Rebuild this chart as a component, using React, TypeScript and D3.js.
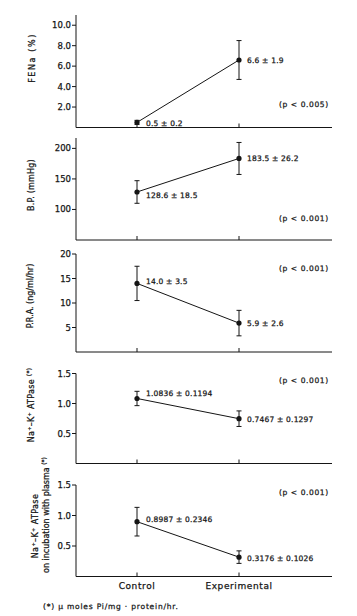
import React from "react";
import * as d3 from "d3";

// ---- data ----
const categories = ["Control", "Experimental"];

const fenaMean = [0.5, 6.6];
const fenaSD = [0.2, 1.9];
const fenaTicks = [2, 4, 6, 8, 10];

const bpMean = [128.6, 183.5];
const bpSD = [18.5, 26.2];
const bpTicks = [100, 150, 200];

const praMean = [14.0, 5.9];
const praSD = [3.5, 2.6];
const praTicks = [5, 10, 15, 20];

const atpMean = [1.0836, 0.7467];
const atpSD = [0.1194, 0.1297];
const atpTicks = [0.5, 1.0, 1.5];

const atpPlasmaMean = [0.8987, 0.3176];
const atpPlasmaSD = [0.2346, 0.1026];
const atpPlasmaTicks = [0.5, 1.0, 1.5];

const pValues = ["(p < 0.005)", "(p < 0.001)", "(p < 0.001)", "(p < 0.001)", "(p < 0.001)"];
const footnote = "(*)  \u03bc moles Pi/mg \u00b7 protein/hr.";

// ---- layout ----
const W = 357;
const H = 616;
const AX_L = 76;
const AX_R = 332;
const FONT = "'DejaVu Sans', 'Liberation Sans', sans-serif";
const INK = "#151515";
const TS = 0.25; // slight text stroke to mimic scanned print weight

const xScale = d3.scalePoint<string>().domain(categories).range([137, 239]);

type Panel = {
  mean: number[];
  sd: number[];
  ticks: number[];
  domain: [number, number];
  range: [number, number];
  tickFmt: string;
  valFmt: string;
  labelLines: { text: string; sup?: string; x: number; y: number; ls: number }[];
  pY: number;
  annDy: number[];
};

const panels: Panel[] = [
  {
    mean: fenaMean, sd: fenaSD, ticks: fenaTicks, domain: [0, 11], range: [127.5, 15],
    tickFmt: ".1f", valFmt: ".1f",
    labelLines: [{ text: "FENa (%)", x: 32, y: 58, ls: 1.6 }],
    pY: 104, annDy: [1, 0],
  },
  {
    mean: bpMean, sd: bpSD, ticks: bpTicks, domain: [50, 217], range: [240, 138],
    tickFmt: "d", valFmt: ".1f",
    labelLines: [{ text: "B.P. (mmHg)", x: 31, y: 185, ls: 0.2 }],
    pY: 218, annDy: [4, 0],
  },
  {
    mean: praMean, sd: praSD, ticks: praTicks, domain: [0, 20], range: [352, 254],
    tickFmt: "d", valFmt: ".1f",
    labelLines: [{ text: "P.R.A. (ng/ml/hr)", x: 30, y: 296, ls: 0 }],
    pY: 268, annDy: [-2, 0],
  },
  {
    mean: atpMean, sd: atpSD, ticks: atpTicks, domain: [0, 1.5], range: [463.5, 373.5],
    tickFmt: ".1f", valFmt: ".4f",
    labelLines: [{ text: "Na\u207a\u2013K\u207a ATPase ", sup: "(*)", x: 31, y: 405, ls: 0.3 }],
    pY: 380, annDy: [-5, 1],
  },
  {
    mean: atpPlasmaMean, sd: atpPlasmaSD, ticks: atpPlasmaTicks, domain: [0, 1.5], range: [576.5, 485],
    tickFmt: ".1f", valFmt: ".4f",
    labelLines: [
      { text: "Na\u207a\u2013K\u207a ATPase", x: 35, y: 526, ls: 0.4 },
      { text: "on incubation with plasma ", sup: "(*)", x: 46, y: 515, ls: 0 },
    ],
    pY: 492, annDy: [-2, 1],
  },
];

function PanelView({ p, idx }: { p: Panel; idx: number }) {
  const y = d3.scaleLinear().domain(p.domain).range(p.range);
  const tf = d3.format(p.tickFmt);
  const vf = d3.format(p.valFmt);
  const base = y(p.domain[0]);
  const top = y(p.domain[1]);
  const pts = categories.map((c, i) => [xScale(c) as number, y(p.mean[i])] as [number, number]);
  const line = d3.line()(pts) || "";
  return (
    <g>
      {/* y axis */}
      <line x1={AX_L} x2={AX_L} y1={base} y2={top} stroke={INK} strokeWidth={1} />
      {p.ticks.map((t) => (
        <g key={t}>
          <line x1={AX_L - 4} x2={AX_L} y1={y(t)} y2={y(t)} stroke={INK} strokeWidth={1} />
          <text x={AX_L - 5} y={y(t)} textAnchor="end" dominantBaseline="central"
            fontSize={8.5} fontFamily={FONT} fill={INK} stroke={INK} strokeWidth={TS}>{tf(t)}</text>
        </g>
      ))}
      {/* x axis */}
      <line x1={AX_L} x2={AX_R} y1={base} y2={base} stroke={INK} strokeWidth={1} />
      {categories.map((c) => (
        <line key={c} x1={xScale(c)} x2={xScale(c)} y1={base} y2={base - 4} stroke={INK} strokeWidth={1} />
      ))}
      {/* connecting line */}
      <path d={line} fill="none" stroke={INK} strokeWidth={1} />
      {/* error bars + markers */}
      {categories.map((c, i) => {
        const cx = xScale(c) as number;
        const hi = y(p.mean[i] + p.sd[i]);
        const lo = y(p.mean[i] - p.sd[i]);
        return (
          <g key={c}>
            <line x1={cx} x2={cx} y1={hi} y2={lo} stroke={INK} strokeWidth={1} />
            <line x1={cx - 2.5} x2={cx + 2.5} y1={hi} y2={hi} stroke={INK} strokeWidth={1} />
            <line x1={cx - 2.5} x2={cx + 2.5} y1={lo} y2={lo} stroke={INK} strokeWidth={1} />
            <circle cx={cx} cy={y(p.mean[i])} r={2.6} fill={INK} />
            <text x={cx + (i === 0 ? 9 : 8)} y={y(p.mean[i]) + p.annDy[i]} dominantBaseline="central"
              fontSize={7.5} fontFamily={FONT} fill={INK} stroke={INK} strokeWidth={TS} letterSpacing={0.2}>
              {`${vf(p.mean[i])} \u00b1 ${vf(p.sd[i])}`}
            </text>
          </g>
        );
      })}
      {/* p value */}
      <text x={279} y={p.pY} dominantBaseline="central" fontSize={7.5} fontFamily={FONT}
        fill={INK} stroke={INK} strokeWidth={TS} letterSpacing={0.6}>{pValues[idx]}</text>
      {/* y labels */}
      {p.labelLines.map((l, k) => (
        <text key={k} transform={`translate(${l.x},${l.y}) rotate(-90)`} textAnchor="middle"
          dominantBaseline="central" fontSize={8} fontFamily={FONT} fill={INK} stroke={INK}
          strokeWidth={TS} letterSpacing={l.ls}>
          {l.text}
          {l.sup ? <tspan dy={-3} fontSize={6}>{l.sup}</tspan> : null}
        </text>
      ))}
    </g>
  );
}

export default function App() {
  const last = panels[panels.length - 1];
  const yLast = d3.scaleLinear().domain(last.domain).range(last.range);
  const baseLast = yLast(last.domain[0]);
  return (
    <svg width={W} height={H} style={{ position: "absolute", left: 0, top: 0, background: "#fff" }}>
      <rect x={0} y={0} width={W} height={H} fill="#fff" />
      {panels.map((p, i) => (
        <PanelView key={i} p={p} idx={i} />
      ))}
      {categories.map((c) => (
        <text key={c} x={xScale(c)} y={baseLast + 12} textAnchor="middle" fontSize={9}
          fontFamily={FONT} fill={INK} stroke={INK} strokeWidth={TS} letterSpacing={0.6}>{c}</text>
      ))}
      <text x={43} y={609} fontSize={7.5} fontFamily={FONT} fill={INK} stroke={INK} strokeWidth={TS}
        letterSpacing={0.8}>{footnote}</text>
    </svg>
  );
}
